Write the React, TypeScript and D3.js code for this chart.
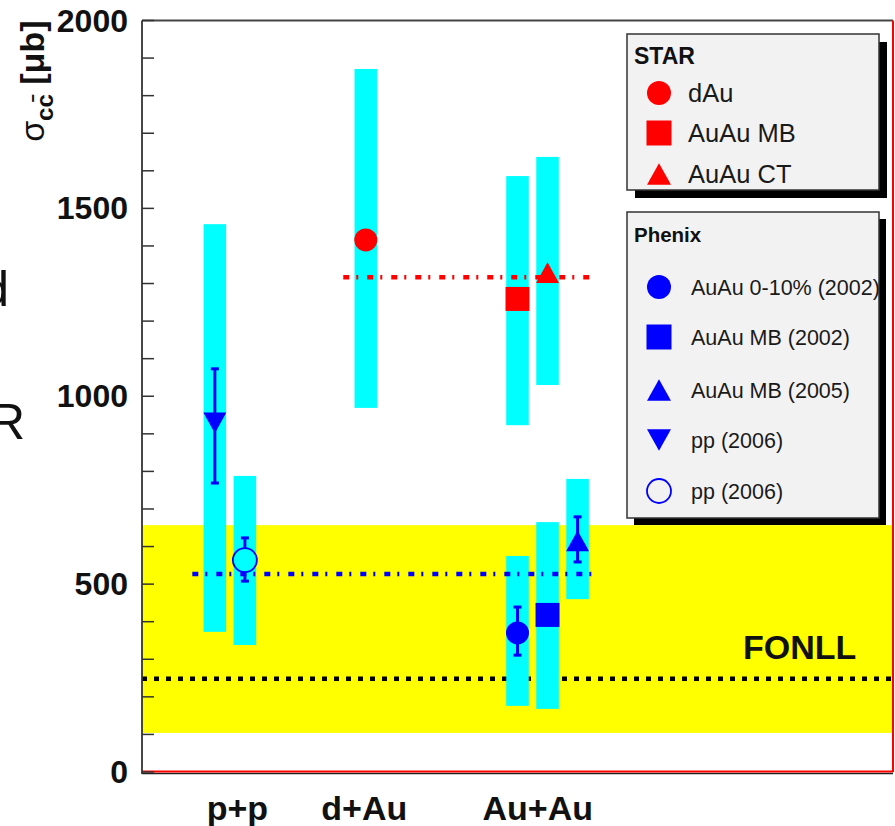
import React from "react";
import * as d3 from "d3";

// charm cross section, sigma_cc [ub]
const categories = ["p+p", "d+Au", "Au+Au"];
const categoryPos = [1.27, 2.96, 5.27];

const seriesKeys = ["phxPP", "phxPPopen", "starDAu", "starMB", "starCT", "phx010", "phxMB02", "phxMB05"];
const seriesX = [0.97, 1.37, 2.98, 5.0, 5.4, 5.0, 5.4, 5.8];
const sigma = [929, 564, 1416, 1259, 1329, 370, 418, 615];
const statLo = [769, 508, null, null, null, 311, null, 559];
const statHi = [1073, 623, null, null, null, 439, null, 679];
const sysLo = [373, 338, 969, 923, 1030, 176, 168, 460];
const sysHi = [1458, 788, 1871, 1586, 1637, 575, 665, 780];

const starLegend = ["dAu", "AuAu MB", "AuAu CT"];
const starLegendKeys = ["starDAu", "starMB", "starCT"];
const phenixLegend = ["AuAu 0-10% (2002)", "AuAu MB (2002)", "AuAu MB (2005)", "pp (2006)", "pp (2006)"];
const phenixLegendKeys = ["phx010", "phxMB02", "phxMB05", "phxPP", "phxPPopen"];

// FONLL band and averages
const fonll = 248;
const fonllLo = 104;
const fonllHi = 657;
const starAvg = 1317;
const starAvgSpan = [2.68, 6.0];
const phenixAvg = 527;
const phenixAvgSpan = [0.67, 6.0];

const yTickLabels = [0, 500, 1000, 1500, 2000];

const markerStyle: Record<string, { shape: string; color: string }> = {
  phxPP: { shape: "triangleDown", color: "#0000ff" },
  phxPPopen: { shape: "openCircle", color: "#0000ff" },
  starDAu: { shape: "circle", color: "#ff0000" },
  starMB: { shape: "square", color: "#ff0000" },
  starCT: { shape: "triangle", color: "#ff0000" },
  phx010: { shape: "circle", color: "#0000ff" },
  phxMB02: { shape: "square", color: "#0000ff" },
  phxMB05: { shape: "triangle", color: "#0000ff" },
};

const FONT = "'Liberation Sans', Arial, Helvetica, sans-serif";
const plot = { left: 142, right: 893, top: 20.5, bottom: 772 };

const x = d3.scaleLinear().domain([0, 10]).range([plot.left, plot.right]);
const y = d3.scaleLinear().domain([0, 2000]).range([plot.bottom, plot.top]);

const tri = d3.line();

function Marker({ k, cx, cy, d = 23 }: { k: string; cx: number; cy: number; d?: number }) {
  const st = markerStyle[k];
  const r = d / 2;
  if (st.shape === "circle" || st.shape === "openCircle") {
    const p = d3.symbol().type(d3.symbolCircle).size(Math.PI * r * r)();
    return st.shape === "openCircle" ? (
      <path d={p!} transform={`translate(${cx},${cy})`} fill="none" stroke={st.color} strokeWidth={1.8} />
    ) : (
      <path d={p!} transform={`translate(${cx},${cy})`} fill={st.color} />
    );
  }
  if (st.shape === "square") {
    const p = d3.symbol().type(d3.symbolSquare).size((d + 1) * (d + 1))();
    return <path d={p!} transform={`translate(${cx},${cy})`} fill={st.color} />;
  }
  const h = d * 0.9;
  const s = st.shape === "triangleDown" ? -1 : 1;
  const p = tri([[0, -s * h / 2], [r, s * h / 2], [-r, s * h / 2]]) + "Z";
  return <path d={p} transform={`translate(${cx},${cy})`} fill={st.color} />;
}

function Legend({ title, titleSize, labels, keys, box, rows, textX, textSize, shadow }: any) {
  const clipId = "clip-" + title;
  return (
    <g>
      <rect x={box.x + shadow} y={box.y + shadow} width={box.w} height={box.h} fill="#000" />
      <rect x={box.x} y={box.y} width={box.w} height={box.h} fill="#f2f2f2" stroke="#333" strokeWidth={1.5} />
      <clipPath id={clipId}>
        <rect x={box.x} y={box.y} width={box.w} height={box.h} />
      </clipPath>
      <text x={box.x + 7} y={rows.title} fontFamily={FONT} fontWeight="bold" fontSize={titleSize} fill="#111">
        {title}
      </text>
      <g clipPath={`url(#${clipId})`}>
        {labels.map((lab: string, i: number) => (
          <g key={i}>
            <Marker k={keys[i]} cx={659} cy={rows.marker[i]} d={24} />
            <text x={textX} y={rows.marker[i] + textSize * 0.36} fontFamily={FONT} fontSize={textSize} fill="#1a1a1a">
              {lab}
            </text>
          </g>
        ))}
      </g>
    </g>
  );
}

export default function App() {
  const minor = d3.range(0, 2001, 100);
  const barW = x(0.3) - x(0);
  return (
    <svg width={895} height={826} style={{ position: "absolute", left: 0, top: 0 }}>
      <rect width={895} height={826} fill="#fff" />

      {/* cut-off text from neighbouring slide */}
      <text x={9} y={306} textAnchor="end" fontFamily={FONT} fontSize={50} fill="#111">d</text>
      <text x={25} y={439} textAnchor="end" fontFamily={FONT} fontSize={50} fill="#111">R</text>

      {/* FONLL band */}
      <rect x={plot.left} y={y(fonllHi)} width={plot.right - plot.left} height={y(fonllLo) - y(fonllHi)} fill="#ffff00" />
      <line x1={x(0)} x2={x(10)} y1={y(fonll)} y2={y(fonll)} stroke="#000" strokeWidth={4.5} strokeDasharray="5 7" />

      {/* systematic bars */}
      {seriesKeys.map((k, i) => (
        <rect key={k} x={x(seriesX[i]) - barW / 2} y={y(sysHi[i])} width={barW} height={y(sysLo[i]) - y(sysHi[i])} fill="#00ffff" />
      ))}

      {/* averages */}
      <line x1={x(starAvgSpan[0])} x2={x(starAvgSpan[1])} y1={y(starAvg)} y2={y(starAvg)} stroke="#ff0000" strokeWidth={4.5} strokeDasharray="6 7 2 9" />
      <line x1={x(phenixAvgSpan[0])} x2={x(phenixAvgSpan[1])} y1={y(phenixAvg)} y2={y(phenixAvg)} stroke="#0000ff" strokeWidth={4.5} strokeDasharray="6 7 2 9" />

      {/* stat errors */}
      {seriesKeys.map((k, i) => {
        if (statLo[i] == null) return null;
        const cx = x(seriesX[i]);
        const cy = y(sigma[i]);
        const gap = markerStyle[k].shape === "openCircle" ? 12 : 0;
        const col = markerStyle[k].color;
        return (
          <g key={k} stroke={col} strokeWidth={3}>
            <line x1={cx} x2={cx} y1={y(statHi[i]!)} y2={cy - gap} />
            <line x1={cx} x2={cx} y1={cy + gap} y2={y(statLo[i]!)} />
            <line x1={cx - 4} x2={cx + 4} y1={y(statHi[i]!)} y2={y(statHi[i]!)} />
            <line x1={cx - 4} x2={cx + 4} y1={y(statLo[i]!)} y2={y(statLo[i]!)} />
          </g>
        );
      })}

      {/* markers */}
      {seriesKeys.map((k, i) => (
        <Marker key={k} k={k} cx={x(seriesX[i])} cy={y(sigma[i])} d={markerStyle[k].shape === "openCircle" ? 24 : 23} />
      ))}

      <text x={743} y={659} fontFamily={FONT} fontWeight="bold" fontSize={34} fill="#111">FONLL</text>

      {/* frame */}
      <line x1={plot.left} x2={plot.right} y1={plot.top} y2={plot.top} stroke="#444" strokeWidth={1.8} />
      <line x1={plot.left} x2={plot.right} y1={plot.bottom + 1.5} y2={plot.bottom + 1.5} stroke="#222" strokeWidth={1.5} />
      <line x1={plot.left} x2={plot.right} y1={plot.bottom - 0.5} y2={plot.bottom - 0.5} stroke="#ff0000" strokeWidth={2} />
      <line x1={plot.right} x2={plot.right} y1={plot.top} y2={plot.bottom} stroke="#ff0000" strokeWidth={2} />
      <line x1={plot.left} x2={plot.left} y1={plot.top} y2={plot.bottom + 2} stroke="#333" strokeWidth={1.8} />
      {minor.map((v) => (
        <line key={v} x1={plot.left} x2={plot.left + 12} y1={y(v)} y2={y(v)} stroke="#333" strokeWidth={1.5} />
      ))}
      {yTickLabels.map((v) => (
        <text key={v} x={128} y={y(v) + 11} textAnchor="end" fontFamily={FONT} fontWeight="bold" fontSize={32} fill="#111">
          {v}
        </text>
      ))}

      {/* y title */}
      <text transform={`translate(44,${plot.top}) rotate(-90)`} textAnchor="end" fontFamily={FONT} fontSize={34} fill="#111">
        <tspan>σ</tspan>
        <tspan dy={9} fontSize={24} fontWeight="bold">{"cc\u0304"}</tspan>
        <tspan dy={-9} fontWeight="bold">{" [μb]"}</tspan>
      </text>

      {/* category labels */}
      {categories.map((c, i) => (
        <text key={c} x={x(categoryPos[i])} y={820} textAnchor="middle" fontFamily={FONT} fontWeight="bold" fontSize={34} fill="#111">
          {c}
        </text>
      ))}

      <Legend
        title="STAR"
        titleSize={23}
        labels={starLegend}
        keys={starLegendKeys}
        box={{ x: 627, y: 34, w: 252, h: 156 }}
        rows={{ title: 64, marker: [93, 133, 174] }}
        textX={688}
        textSize={25.5}
        shadow={8}
      />
      <Legend
        title="Phenix"
        titleSize={20.5}
        labels={phenixLegend}
        keys={phenixLegendKeys}
        box={{ x: 627, y: 212, w: 252, h: 306 }}
        rows={{ title: 242, marker: [287, 337, 390, 440, 491] }}
        textX={691}
        textSize={21.5}
        shadow={7}
      />
    </svg>
  );
}
